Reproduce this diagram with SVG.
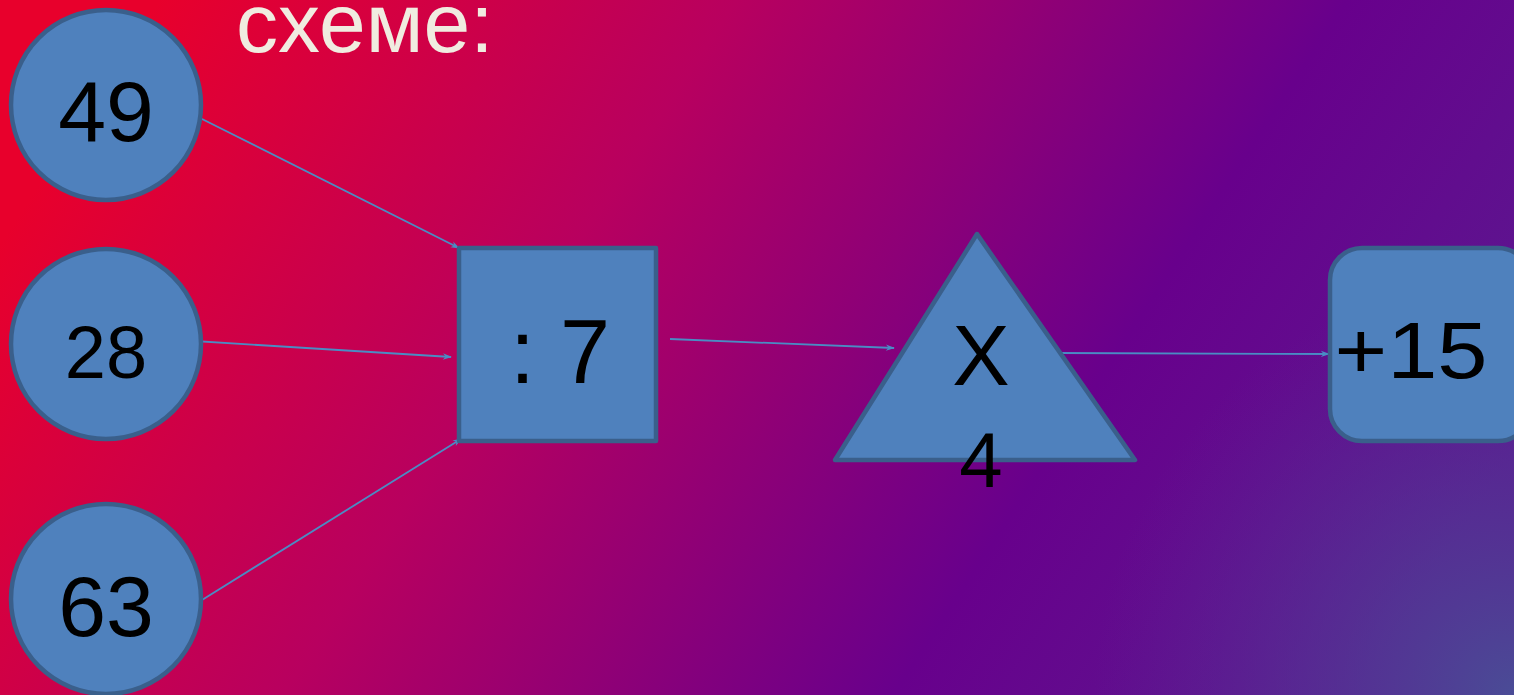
<svg xmlns="http://www.w3.org/2000/svg" width="1514" height="695" viewBox="0 0 1514 695">
<defs>
<linearGradient id="bg" x1="0" y1="0.35" x2="1" y2="0.65">
<stop offset="0" stop-color="#e8002c"/>
<stop offset="0.35" stop-color="#b8005f"/>
<stop offset="0.72" stop-color="#68008c"/>
<stop offset="1" stop-color="#5a1a90"/>
</linearGradient>
<radialGradient id="corner" cx="1514" cy="695" r="420" gradientUnits="userSpaceOnUse">
<stop offset="0" stop-color="#4a4c96" stop-opacity="1"/>
<stop offset="1" stop-color="#5a2a94" stop-opacity="0"/>
</radialGradient>
<marker id="arr" viewBox="0 0 10 10" refX="9" refY="5" markerWidth="10" markerHeight="9" orient="auto" markerUnits="userSpaceOnUse">
<path d="M0,1.5 L10,5 L0,8.5 L3,5 Z" fill="#4a8cc4"/>
</marker>
<style>
.shape{fill:#4f81bd;stroke:#3a5f8b;stroke-width:4.5;stroke-linejoin:round}
.lbl{fill:#000;text-anchor:middle;font-family:"Liberation Sans",Arial,sans-serif}
.conn{stroke:#4a8cc4;stroke-width:1.8;fill:none;marker-end:url(#arr)}
</style>
</defs>
<rect width="1514" height="695" fill="url(#bg)"/>
<rect width="1514" height="695" fill="url(#corner)"/>
<text x="236" y="52" font-family="'Liberation Sans',Arial,sans-serif" font-size="84" fill="#f0ece0">схеме:</text>
<g id="connectors">
<line class="conn" x1="200" y1="118" x2="459" y2="248"/>
<line class="conn" x1="178" y1="340" x2="451" y2="357"/>
<line class="conn" x1="202" y1="600" x2="461" y2="439"/>
<line class="conn" x1="670" y1="339" x2="894" y2="348"/>
<line class="conn" x1="1058" y1="353" x2="1329" y2="354"/>
</g>
<g id="n49"><circle class="shape" cx="106" cy="105" r="95"/><text class="lbl" x="106" y="141" font-size="86">49</text></g>
<g id="n28"><circle class="shape" cx="106" cy="344" r="95"/><text class="lbl" x="106" y="378" font-size="74">28</text></g>
<g id="n63"><circle class="shape" cx="106" cy="599" r="95"/><text class="lbl" x="106" y="636" font-size="86" font-family="'Noto Sans',sans-serif">63</text></g>
<g id="div7"><rect class="shape" x="459" y="248" width="197" height="193"/><text class="lbl" x="560" y="383" font-size="90" font-family="'DejaVu Sans',sans-serif">: 7</text></g>
<g id="mul4"><polygon class="shape" points="977,234 1135,460 835,460"/><text class="lbl" x="981" y="385" font-size="86">X</text><text class="lbl" x="981" y="487" font-size="78">4</text></g>
<g id="plus15"><rect class="shape" x="1330" y="248" width="200" height="193" rx="32"/><text class="lbl" x="1411" y="378" font-size="80" textLength="153" lengthAdjust="spacingAndGlyphs">+15</text></g>
</svg>
